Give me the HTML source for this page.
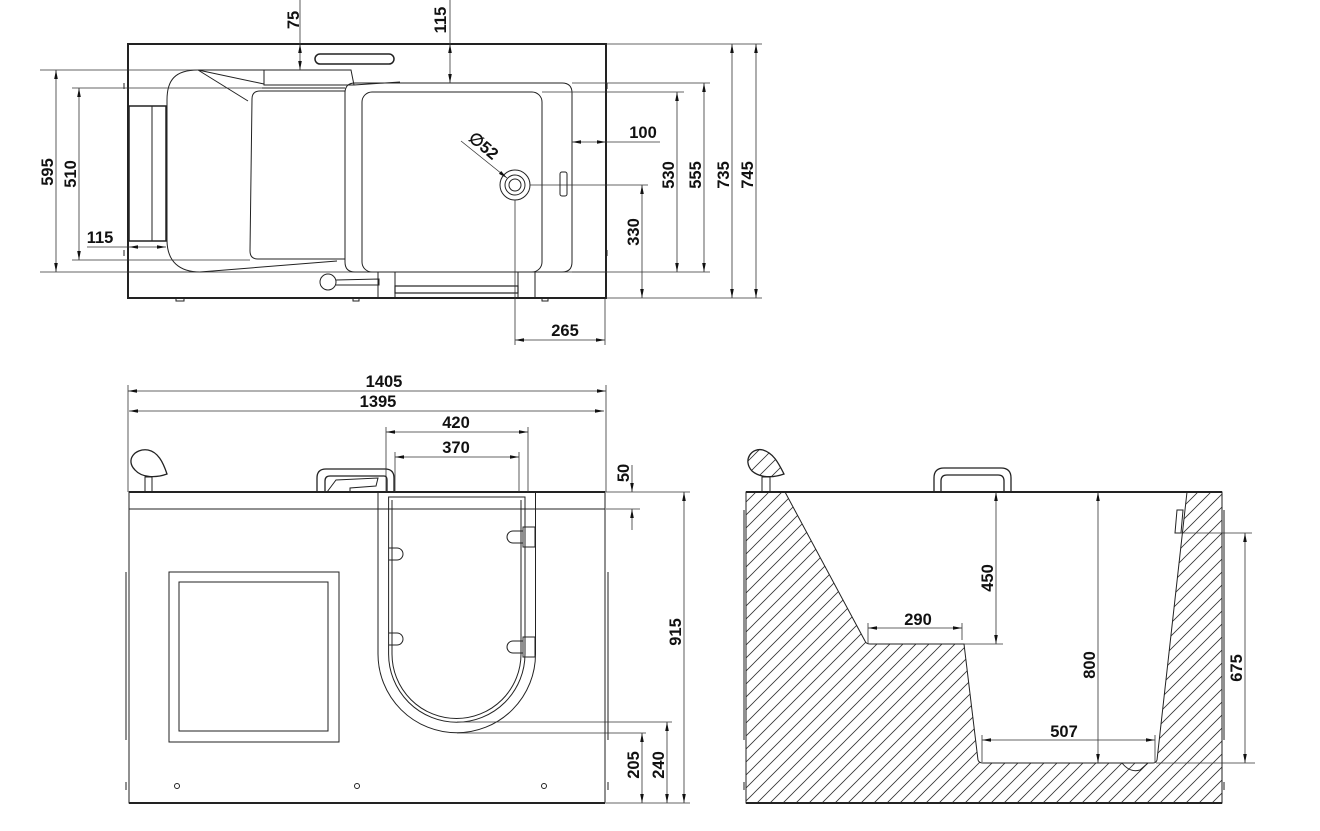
<!DOCTYPE html>
<html><head><meta charset="utf-8"><style>
html,body{margin:0;padding:0;background:#fff}
svg{display:block}
text{font-family:"Liberation Sans Narrow","Liberation Sans",sans-serif;font-size:16.5px;fill:#111;font-weight:bold}
</style></head><body>
<svg width="1320" height="831" viewBox="0 0 1320 831" xmlns="http://www.w3.org/2000/svg">
<defs>
<marker id="a" viewBox="0 0 10 4" refX="10" refY="2" markerWidth="9" markerHeight="3.6" markerUnits="userSpaceOnUse" orient="auto-start-reverse"><path d="M0,0L10,2L0,4z" fill="#111"/></marker>
<pattern id="h" patternUnits="userSpaceOnUse" width="13" height="13">
<path d="M-1,14L14,-1M-7,7L7,-7M6,20L20,6" stroke="#333" stroke-width="0.8"/>
</pattern>
</defs>

<g fill="none" stroke="#222" stroke-width="1">
<rect x="128" y="44" width="478" height="254" stroke-width="2"/>
<rect x="315" y="54" width="79" height="10" rx="5" stroke-width="1.5"/>
<rect x="129" y="106" width="37" height="135" stroke-width="1.5"/>
<line x1="152" y1="106" x2="152" y2="241"/>
<path d="M198,70 L264,70 L264,85 L354,85 L351,70 L264,70"/>
<path d="M198,70 C175,70 167,80 167,100 L167,240 C167,262 180,272 200,272 L337,261"/>
<path d="M198,70 L264,84 M198,70 L248,101"/>
<path d="M262,88 L345,88 M354,85 L400,82"/>
<path d="M252,99 Q252,91 260,91 L345,91 L345,259 L258,259 Q250,259 250,251 Z"/>
<path d="M355,83 L562,83 Q572,83 572,93 L572,262 Q572,272 562,272 L355,272 Q345,272 345,262 L345,93 Q345,83 355,83"/>
<rect x="362" y="92" width="180" height="180" rx="10"/>
<line x1="128" y1="272" x2="606" y2="272" stroke-width="0.8"/>
<circle cx="515" cy="185" r="15"/><circle cx="515" cy="185" r="10"/><circle cx="515" cy="185" r="6"/>
<rect x="560" y="172" width="7" height="24" rx="2"/>
<circle cx="328" cy="282" r="8"/>
<path d="M336,280 L379,279 L379,285 L336,285"/>
<path d="M378,272 L378,298 M395,272 L395,298 M518,272 L518,298 M535,272 L535,298"/>
<rect x="395" y="286" width="123" height="7" stroke-width="1.2"/>
<path d="M176,298v3h8v-3 M353,298v3h6v-3 M542,298v3h6v-3 M124,83v6 M124,250v6 M607,83v6 M607,250v6"/>

<rect x="129" y="492" width="476" height="17"/>
<line x1="129" y1="492" x2="605" y2="492" stroke-width="2"/>
<path d="M129,509 L129,803 L605,803 L605,509"/>
<line x1="129" y1="803" x2="605" y2="803" stroke-width="2"/>
<path d="M126,572v168 M608,572v168 M126,782v8 M608,782v8"/>
<rect x="169" y="572" width="170" height="170"/>
<rect x="179" y="582" width="149" height="149"/>
<path d="M378,492 L378,654 A78.75,78.75 0 0 0 535.5,654 L535.5,492"/>
<path d="M388.6,497 L388.6,654 A68.2,68.2 0 0 0 525,654 L525,497 Z"/>
<path d="M392,500 L392,654 A64.5,64.5 0 0 0 521,654 L521,500"/>
<rect x="523" y="527" width="12" height="20"/><rect x="523" y="637" width="12" height="20"/>
<path d="M523,531 L513,531 A6,6 0 0 0 513,543 L523,543 M523,641 L513,641 A6,6 0 0 0 513,653 L523,653"/>
<path d="M389,548 L397,548 A6,6 0 0 1 397,560 L389,560 M389,633 L397,633 A6,6 0 0 1 397,645 L389,645"/>
<circle cx="177" cy="786" r="2.5"/><circle cx="357" cy="786" r="2.5"/><circle cx="544" cy="786" r="2.5"/>
<path d="M145,492 L145,477 L152,477 L152,492"/>
<path d="M135,470 C125,460 135,448 148,450 C158,452 163,462 167,474 C156,478 142,478 135,470 Z" stroke-width="1.3"/>
<path d="M317,492 L317,478 Q317,469 326,469 L385,469 Q394,469 394,478 L394,492 M325,492 L325,481 Q325,476 330,476 L384,476 Q387,476 387,480 L387,492" stroke-width="1.3"/>
<path d="M327,492 L336,480 L378,478 L376,486 L350,488 L350,492"/>

<path d="M746,492 L785,492 L865,641 Q866,644 870,644 L964,644 L978,760 Q979,763 983,763 L1153,763 Q1156,763 1157,760 L1187,492 L1222,492 L1222,803 L746,803 Z" fill="url(#h)" stroke="none"/>
<path d="M785,492 L865,641 Q866,644 870,644 L964,644 L978,760 Q979,763 983,763 L1153,763 Q1156,763 1157,760 L1187,492"/>
<rect x="746" y="492" width="476" height="311"/>
<line x1="746" y1="492" x2="1222" y2="492" stroke-width="2"/>
<line x1="746" y1="803" x2="1222" y2="803" stroke-width="2"/>
<path d="M744,510v72 M744,572v168 M1224,510v72 M1224,572v168 M744,782v8 M1224,782v8"/>
<path d="M1122,763 Q1130,773 1140,770 L1148,763"/>
<path d="M1177,510 L1183,510 L1181,533 L1175,533 Z"/>
<path d="M762,492 L762,477 L770,477 L770,492"/>
<path d="M752,471 C742,460 752,447 763,450 C773,453 778,462 784,474 C773,478 760,478 752,471 Z" fill="url(#h)" stroke-width="1.3"/>
<path d="M934,492 L934,478 Q934,468 944,468 L1001,468 Q1011,468 1011,478 L1011,492 M941,492 L941,481 Q941,475 947,475 L998,475 Q1004,475 1004,481 L1004,492" stroke-width="1.3"/>
</g>

<g fill="none" stroke="#333" stroke-width="0.8">
<line x1="300" y1="0" x2="300" y2="44"/><line x1="300" y1="44" x2="300" y2="70" marker-start="url(#a)" marker-end="url(#a)"/>
<line x1="450" y1="0" x2="450" y2="44"/><line x1="450" y1="44" x2="450" y2="83" marker-start="url(#a)" marker-end="url(#a)"/>
<line x1="40" y1="70" x2="198" y2="70"/><line x1="40" y1="272" x2="200" y2="272"/>
<line x1="56" y1="70" x2="56" y2="272" marker-start="url(#a)" marker-end="url(#a)"/>
<line x1="72" y1="88" x2="262" y2="88"/><line x1="72" y1="260" x2="250" y2="260"/>
<line x1="79" y1="88" x2="79" y2="260" marker-start="url(#a)" marker-end="url(#a)"/>
<line x1="87" y1="247" x2="129" y2="247"/>
<line x1="129" y1="247" x2="166" y2="247" marker-start="url(#a)" marker-end="url(#a)"/>
<line x1="606" y1="44" x2="762" y2="44"/><line x1="606" y1="298" x2="762" y2="298"/>
<line x1="572" y1="83" x2="710" y2="83"/><line x1="542" y1="92" x2="684" y2="92"/>
<line x1="572" y1="272" x2="710" y2="272"/>
<line x1="572" y1="142" x2="606" y2="142" marker-start="url(#a)" marker-end="url(#a)"/>
<line x1="606" y1="142" x2="660" y2="142"/>
<line x1="530" y1="185" x2="648" y2="185"/>
<line x1="642" y1="185" x2="642" y2="298" marker-start="url(#a)" marker-end="url(#a)"/>
<line x1="677" y1="92" x2="677" y2="272" marker-start="url(#a)" marker-end="url(#a)"/>
<line x1="704" y1="83" x2="704" y2="272" marker-start="url(#a)" marker-end="url(#a)"/>
<line x1="732" y1="44" x2="732" y2="298" marker-start="url(#a)" marker-end="url(#a)"/>
<line x1="756" y1="44" x2="756" y2="298" marker-start="url(#a)" marker-end="url(#a)"/>
<line x1="515" y1="200" x2="515" y2="345"/><line x1="605" y1="298" x2="605" y2="345"/>
<line x1="515" y1="340" x2="605" y2="340" marker-start="url(#a)" marker-end="url(#a)"/>
<line x1="461" y1="141" x2="507" y2="178" marker-end="url(#a)"/>
<line x1="128" y1="385" x2="128" y2="492"/><line x1="606" y1="385" x2="606" y2="492"/>
<line x1="128" y1="391" x2="606" y2="391" marker-start="url(#a)" marker-end="url(#a)"/>
<line x1="129" y1="411" x2="604" y2="411" marker-start="url(#a)" marker-end="url(#a)"/>
<line x1="386" y1="427" x2="386" y2="492"/><line x1="528" y1="427" x2="528" y2="492"/>
<line x1="395" y1="452" x2="395" y2="492"/><line x1="519" y1="452" x2="519" y2="492"/>
<line x1="386" y1="432" x2="528" y2="432" marker-start="url(#a)" marker-end="url(#a)"/>
<line x1="395" y1="457" x2="519" y2="457" marker-start="url(#a)" marker-end="url(#a)"/>
<line x1="606" y1="492" x2="690" y2="492"/><line x1="606" y1="509" x2="640" y2="509"/>
<line x1="632" y1="465" x2="632" y2="492" marker-end="url(#a)"/><line x1="632" y1="530" x2="632" y2="509" marker-end="url(#a)"/>
<line x1="684" y1="492" x2="684" y2="803" marker-start="url(#a)" marker-end="url(#a)"/>
<line x1="457" y1="722" x2="672" y2="722"/><line x1="457" y1="733" x2="646" y2="733"/>
<line x1="606" y1="803" x2="690" y2="803"/>
<line x1="667" y1="722" x2="667" y2="803" marker-start="url(#a)" marker-end="url(#a)"/>
<line x1="642" y1="733" x2="642" y2="803" marker-start="url(#a)" marker-end="url(#a)"/>
<line x1="996" y1="492" x2="996" y2="644" marker-start="url(#a)" marker-end="url(#a)"/>
<line x1="964" y1="644" x2="1003" y2="644"/>
<line x1="868" y1="628" x2="962" y2="628" marker-start="url(#a)" marker-end="url(#a)"/>
<line x1="868" y1="623" x2="868" y2="644"/><line x1="962" y1="623" x2="962" y2="640"/>
<line x1="1098" y1="492" x2="1098" y2="763" marker-start="url(#a)" marker-end="url(#a)"/>
<line x1="982" y1="740" x2="1155" y2="740" marker-start="url(#a)" marker-end="url(#a)"/>
<line x1="982" y1="735" x2="982" y2="762"/><line x1="1155" y1="735" x2="1155" y2="762"/>
<line x1="1180" y1="533" x2="1252" y2="533"/><line x1="1156" y1="763" x2="1255" y2="763"/>
<line x1="1245" y1="533" x2="1245" y2="763" marker-start="url(#a)" marker-end="url(#a)"/>
</g>

<g>
<text transform="translate(299,20) rotate(-90)" text-anchor="middle">75</text>
<text transform="translate(446,20) rotate(-90)" text-anchor="middle">115</text>
<text transform="translate(53,172) rotate(-90)" text-anchor="middle">595</text>
<text transform="translate(76,174) rotate(-90)" text-anchor="middle">510</text>
<text x="100" y="243" text-anchor="middle">115</text>
<text x="643" y="138" text-anchor="middle">100</text>
<text transform="translate(639,232) rotate(-90)" text-anchor="middle">330</text>
<text transform="translate(674,175) rotate(-90)" text-anchor="middle">530</text>
<text transform="translate(701,175) rotate(-90)" text-anchor="middle">555</text>
<text transform="translate(729,175) rotate(-90)" text-anchor="middle">735</text>
<text transform="translate(753,175) rotate(-90)" text-anchor="middle">745</text>
<text x="565" y="336" text-anchor="middle">265</text>
<text transform="translate(480,150) rotate(40)" text-anchor="middle">∅52</text>
<text x="384" y="387" text-anchor="middle">1405</text>
<text x="378" y="407" text-anchor="middle">1395</text>
<text x="456" y="428" text-anchor="middle">420</text>
<text x="456" y="453" text-anchor="middle">370</text>
<text transform="translate(629,473) rotate(-90)" text-anchor="middle">50</text>
<text transform="translate(681,632) rotate(-90)" text-anchor="middle">915</text>
<text transform="translate(664,765) rotate(-90)" text-anchor="middle">240</text>
<text transform="translate(639,765) rotate(-90)" text-anchor="middle">205</text>
<text transform="translate(993,578) rotate(-90)" text-anchor="middle">450</text>
<text x="918" y="625" text-anchor="middle">290</text>
<text transform="translate(1095,665) rotate(-90)" text-anchor="middle">800</text>
<text x="1064" y="737" text-anchor="middle">507</text>
<text transform="translate(1242,668) rotate(-90)" text-anchor="middle">675</text>
</g>
</svg>
</body></html>
